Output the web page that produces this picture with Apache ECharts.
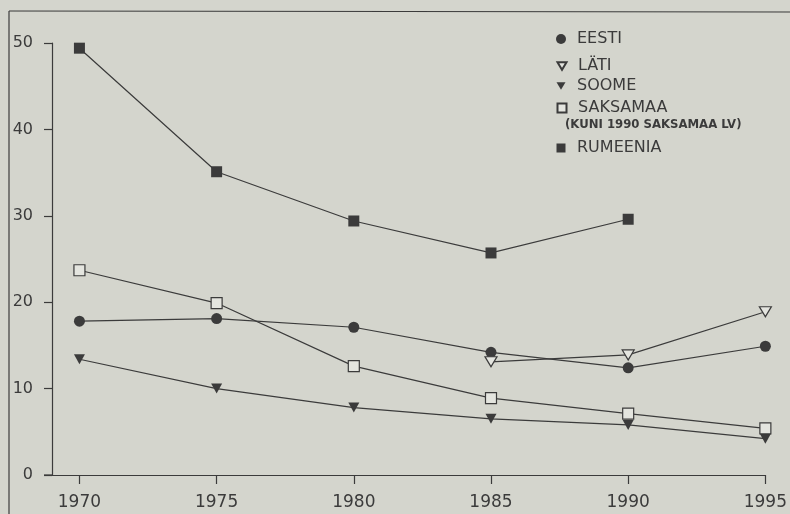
<!DOCTYPE html>
<html>
<head>
<meta charset="utf-8">
<script src="https://cdn.jsdelivr.net/npm/echarts@6/dist/echarts.min.js"></script>
<style>
  html, body { margin: 0; padding: 0; background: #d4d5cd; }
  #chart { width: 790px; height: 514px; }
</style>
</head>
<body>
<div id="chart"></div>
<script>
// aastad ja väärtused (loetud pildilt)
var years = [1970, 1975, 1980, 1985, 1990, 1995]
var eesti = [17.8, 18.1, 17.1, 14.2, 12.4, 14.9]
var lati = [null, null, null, 13.1, 13.9, 18.9]
var soome = [13.4, 10.0, 7.8, 6.5, 5.8, 4.2]
var saksamaa = [23.7, 19.9, 12.6, 8.9, 7.1, 5.4]
var rumeenia = [49.4, 35.1, 29.4, 25.7, 29.6, null]
var yTicks = [0, 10, 20, 30, 40, 50]

var ink = '#3b3b3b'
var paleFill = '#e4e5df'
var downTri = 'path://M0,0 L12,0 L6,10 Z'
var font = 'DejaVu Sans'

function pairs(vals) {
  return years.map(function (y, i) { return [y, vals[i]] })
}

function lineSeries(name, vals, symbol, size, filled) {
  return {
    name: name,
    type: 'line',
    data: pairs(vals),
    symbol: symbol,
    symbolSize: size,
    showAllSymbol: true,
    connectNulls: false,
    lineStyle: { color: ink, width: 1.2 },
    itemStyle: filled
      ? { color: ink, borderWidth: 0 }
      : { color: paleFill, borderColor: ink, borderWidth: 1.2 },
    emphasis: { disabled: true },
    z: 3
  }
}

// ikooni keskpunkt x=561, tekst algab x=577
function legendItem(name, top, icon, s) {
  return {
    data: [name],
    left: 561 - s / 2,
    top: top,
    padding: 0,
    icon: icon,
    itemWidth: s,
    itemHeight: s,
    itemGap: 0,
    selectedMode: false,
    textStyle: {
      fontFamily: font, fontSize: 16, color: ink, lineHeight: 16,
      padding: [0, 0, 0, 577 - (561 + s / 2) - 5]
    }
  }
}

var chart = echarts.init(document.getElementById('chart'))

var option = {
  backgroundColor: '#d4d5cd',
  animation: false,
  grid: { left: 52, right: 22, top: 43, bottom: 39 },
  xAxis: {
    type: 'value',
    min: 1969,
    max: 1995,
    axisLine: { lineStyle: { color: ink, width: 1.2 } },
    axisTick: { show: true, length: 9, customValues: years, lineStyle: { color: ink, width: 1.2 } },
    axisLabel: {
      color: ink,
      fontFamily: font,
      fontSize: 17,
      margin: 19,
      customValues: years,
      formatter: function (v) { return String(v) }
    },
    splitLine: { show: false }
  },
  yAxis: {
    type: 'value',
    min: 0,
    max: 50,
    interval: 10,
    axisLine: { show: true, lineStyle: { color: ink, width: 1.2 } },
    axisTick: { show: true, length: 8, lineStyle: { color: ink, width: 1.2 } },
    axisLabel: {
      color: ink,
      fontFamily: font,
      fontSize: 16,
      margin: 19,
      formatter: function (v) { return yTicks.indexOf(v) >= 0 ? String(v) : '' }
    },
    splitLine: { show: false }
  },
  legend: [
    legendItem('EESTI', 31, 'circle', 10),
    legendItem('LÄTI', 58, downTri, 9),
    legendItem('SOOME', 78, downTri, 9),
    legendItem('SAKSAMAA', 100, 'rect', 9),
    legendItem('RUMEENIA', 140, 'rect', 9)
  ],
  graphic: [
    // raam vasakul ja üleval
    { type: 'line', shape: { x1: 9, y1: 11, x2: 9, y2: 514 }, style: { stroke: ink, lineWidth: 1.2 } },
    { type: 'line', shape: { x1: 9, y1: 11, x2: 790, y2: 12 }, style: { stroke: ink, lineWidth: 1.2 } },
    { type: 'line', shape: { x1: 44, y1: 475, x2: 52, y2: 475 }, style: { stroke: ink, lineWidth: 1.2 } },
    {
      type: 'text', left: 565, top: 119,
      style: { text: '(KUNI 1990 SAKSAMAA LV)', fill: ink, font: 'bold 11.7px "DejaVu Sans"' }
    }
  ],
  series: [
    lineSeries('EESTI', eesti, 'circle', 11, true),
    lineSeries('LÄTI', lati, downTri, [12, 10], false),
    lineSeries('SOOME', soome, downTri, [11, 10], true),
    lineSeries('SAKSAMAA', saksamaa, 'rect', 11, false),
    lineSeries('RUMEENIA', rumeenia, 'rect', 11, true)
  ]
}

chart.setOption(option)
</script>
</body>
</html>
